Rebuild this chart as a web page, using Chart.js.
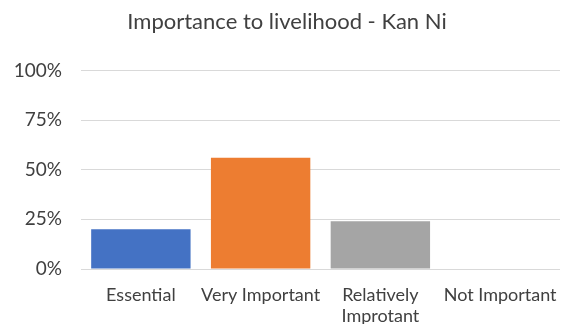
<!DOCTYPE html>
<html><head><meta charset="utf-8">
<script src="https://cdn.jsdelivr.net/npm/chart.js@4"></script>
<style>html,body{margin:0;padding:0;background:#fff}#wrap{width:568px;height:327px}</style>
</head><body><div id="wrap"><canvas id="c" width="568" height="327"></canvas></div>
<script>
const categories = ["Essential", "Very Important", ["Relatively", "Improtant"], "Not Important"];
const values = [20, 56, 24, 0];
const barColors = ["#4472C4", "#ED7D31", "#A5A5A5", "#FFC000"];
const yTicks = [0, 25, 50, 75, 100];

new Chart(document.getElementById('c'), {
  type: 'bar',
  data: { labels: categories, datasets: [{ data: values, backgroundColor: barColors, barPercentage: 1, categoryPercentage: 0.83 }] },
  options: {
    responsive: false, animation: false,
    layout: { padding: { left: 14, right: 8, top: 0, bottom: 3 } },
    plugins: {
      legend: { display: false },
      tooltip: { enabled: false },
      title: { display: true, text: 'Importance to livelihood - Kan Ni', color: '#404040', font: { family: 'Lato', size: 22, weight: 'normal' }, padding: { top: 9, bottom: 35 } }
    },
    scales: {
      x: { grid: { display: false }, border: { display: false },
           afterFit: s => { s.height = 55; s.paddingLeft = 0; s.paddingRight = 0; },
           ticks: { color: '#404040', font: { family: 'Lato', size: 18, lineHeight: 1.2 }, padding: 7, maxRotation: 0, autoSkip: false } },
      y: { min: 0, max: 100, afterBuildTicks: ax => { ax.ticks = yTicks.map(v => ({ value: v })); },
           afterFit: s => { s.width = 67; },
           grid: { color: '#d9d9d9', lineWidth: 1, drawTicks: false }, border: { display: false },
           ticks: { color: '#404040', font: { family: 'Lato', size: 19 }, padding: 19, callback: v => v + '%' } }
    }
  }
});
</script></body></html>
